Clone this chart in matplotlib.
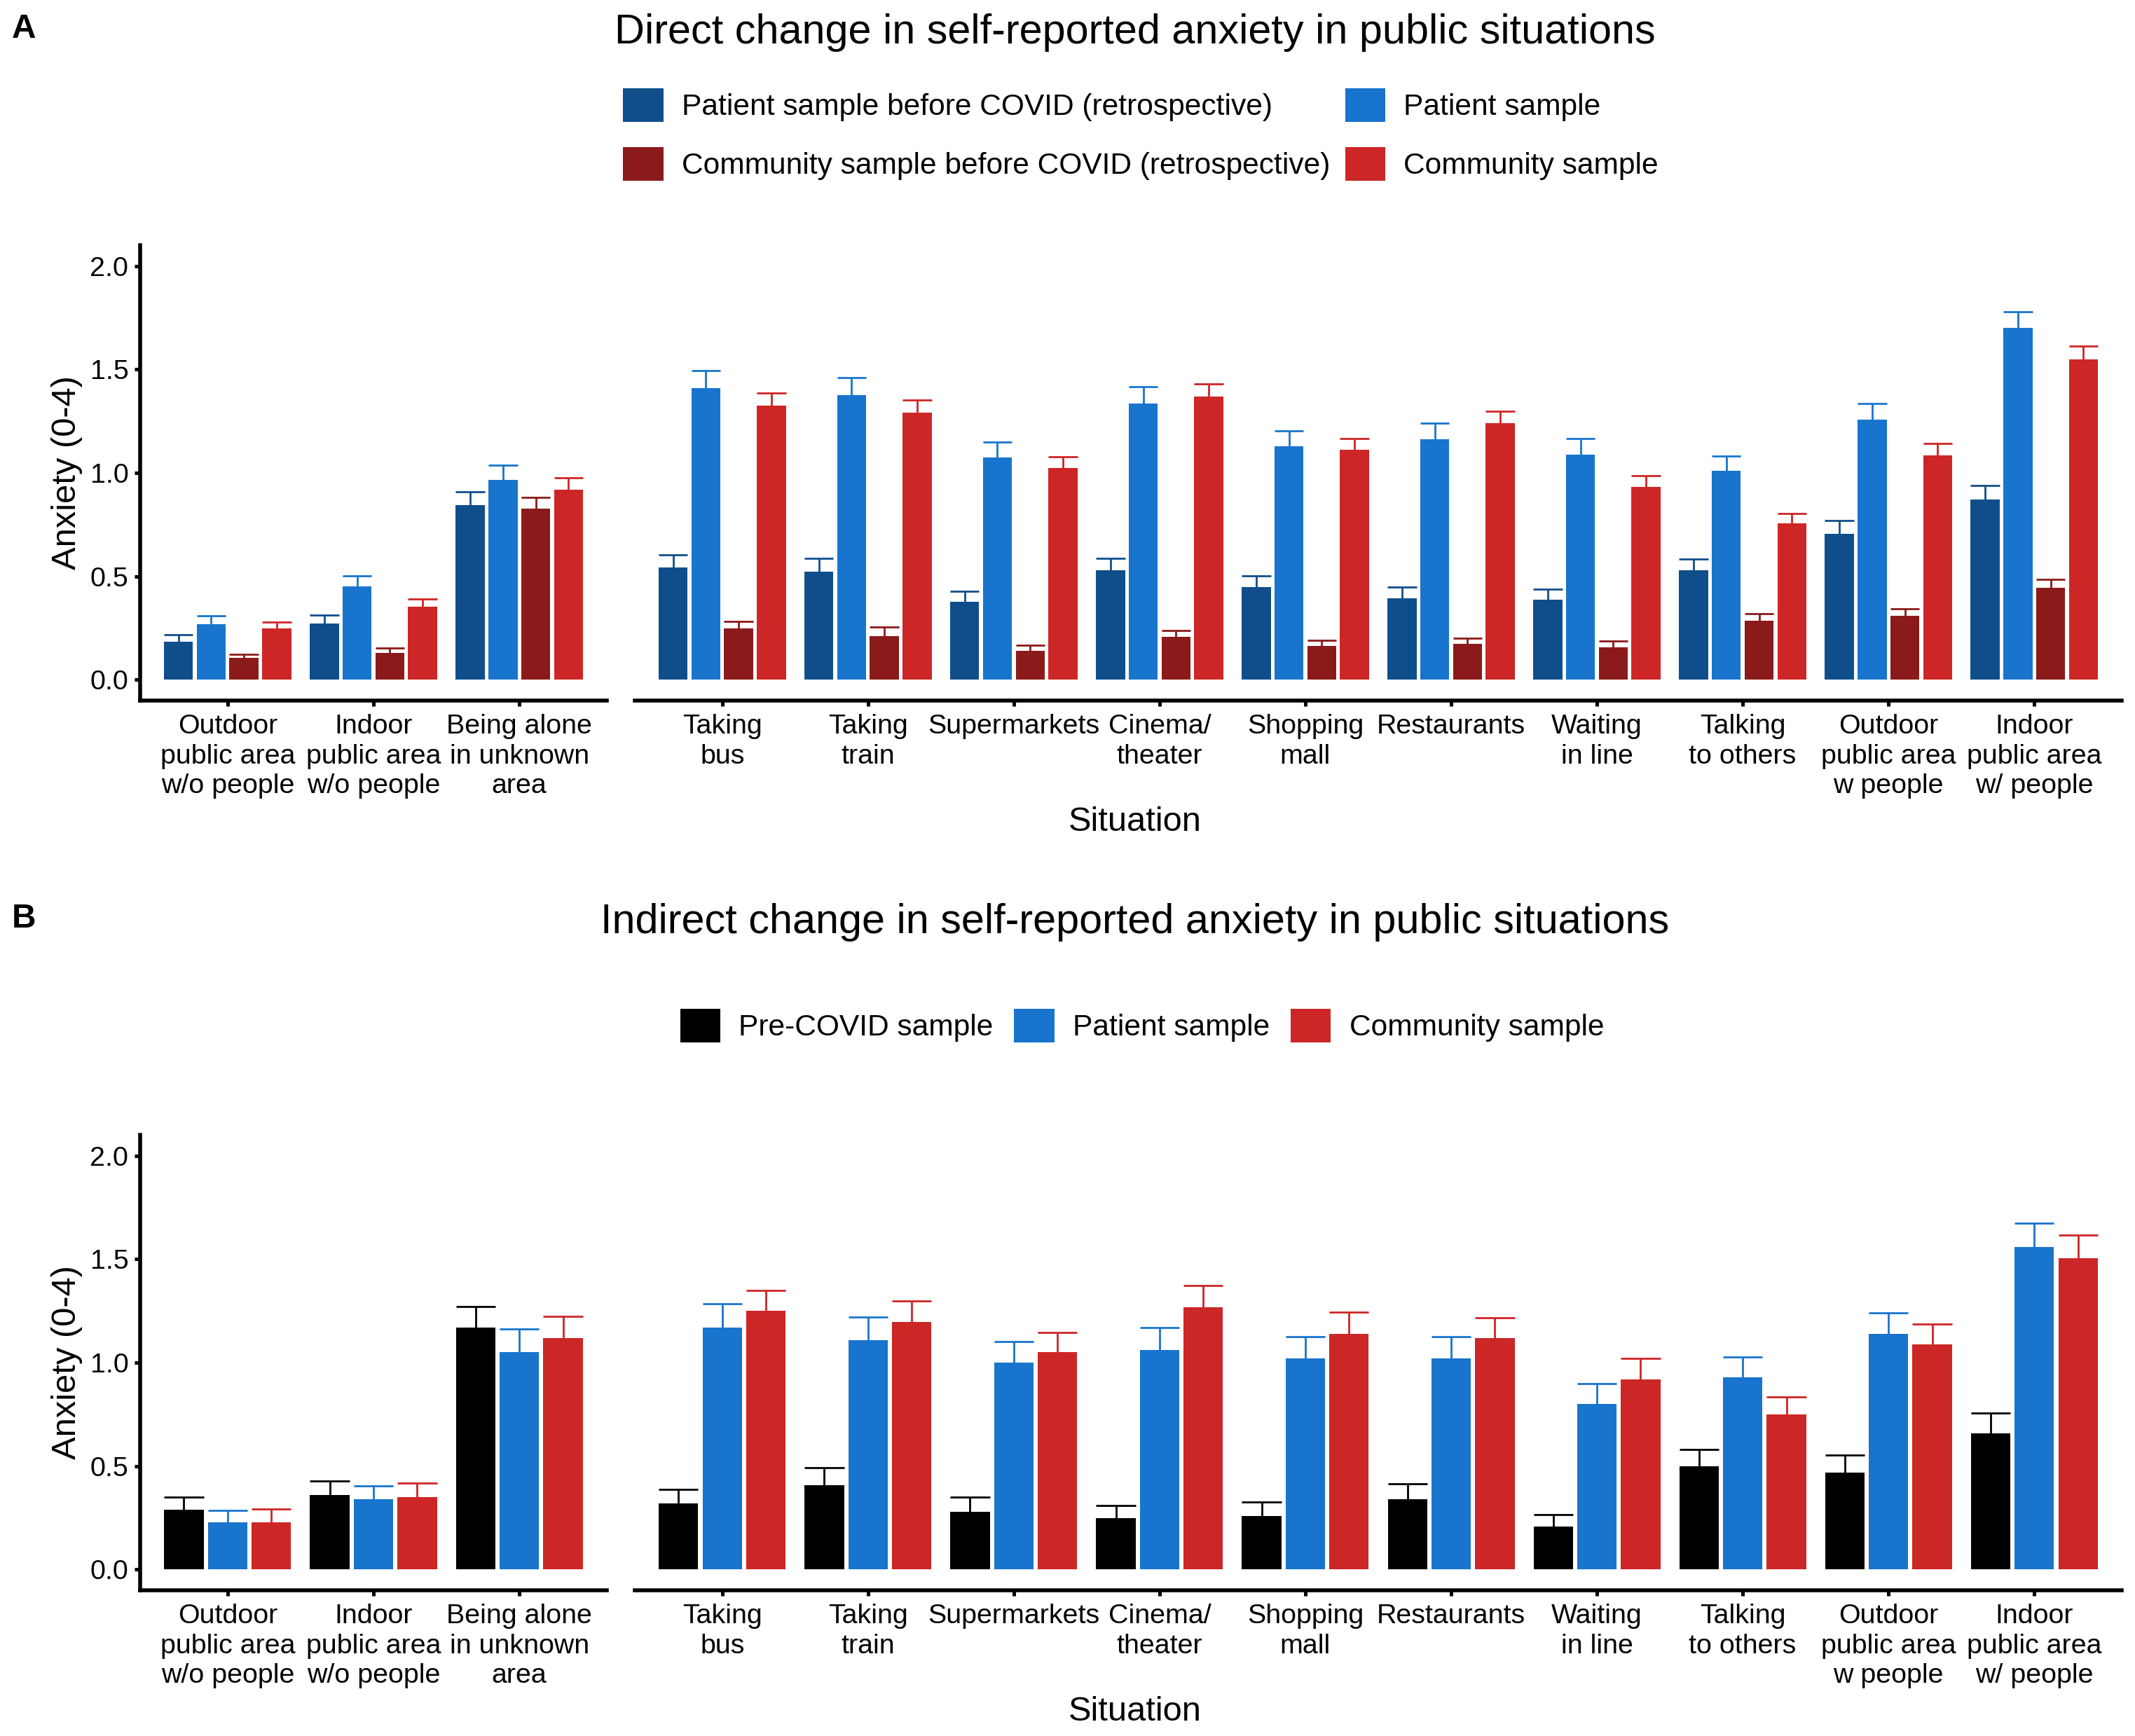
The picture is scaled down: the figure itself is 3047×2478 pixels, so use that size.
import numpy as np
import matplotlib
matplotlib.use("Agg")
import matplotlib.pyplot as plt
from matplotlib.patches import Patch

plt.rcParams['font.family'] = ['Liberation Sans', 'DejaVu Sans']

# situations, first three are shown in the left facet
situations = [
    "Outdoor\npublic area\nw/o people", "Indoor\npublic area\nw/o people", "Being alone\nin unknown\narea",
    "Taking\nbus", "Taking\ntrain", "Supermarkets", "Cinema/\ntheater", "Shopping\nmall",
    "Restaurants", "Waiting\nin line", "Talking\nto others", "Outdoor\npublic area\nw people",
    "Indoor\npublic area\nw/ people",
]
n_left = 3

# panel A: mean and top of error bar
a_patient_pre = [0.184, 0.271, 0.843, 0.543, 0.524, 0.377, 0.529, 0.448, 0.393, 0.387, 0.529, 0.704, 0.873]
a_patient_pre_top = [0.219, 0.313, 0.910, 0.603, 0.586, 0.427, 0.586, 0.502, 0.448, 0.437, 0.585, 0.770, 0.939]
a_patient = [0.268, 0.451, 0.965, 1.409, 1.376, 1.075, 1.335, 1.129, 1.164, 1.088, 1.011, 1.257, 1.700]
a_patient_top = [0.310, 0.502, 1.038, 1.495, 1.460, 1.150, 1.418, 1.204, 1.240, 1.167, 1.082, 1.335, 1.780]
a_comm_pre = [0.107, 0.130, 0.829, 0.249, 0.211, 0.140, 0.208, 0.164, 0.173, 0.157, 0.285, 0.309, 0.445]
a_comm_pre_top = [0.125, 0.154, 0.880, 0.282, 0.255, 0.169, 0.237, 0.191, 0.202, 0.188, 0.321, 0.344, 0.487]
a_comm = [0.249, 0.353, 0.919, 1.325, 1.292, 1.025, 1.369, 1.112, 1.240, 0.933, 0.758, 1.085, 1.548]
a_comm_top = [0.279, 0.392, 0.977, 1.385, 1.352, 1.078, 1.430, 1.167, 1.298, 0.986, 0.805, 1.141, 1.611]

# panel B
b_pre = [0.290, 0.361, 1.168, 0.320, 0.408, 0.279, 0.249, 0.260, 0.340, 0.208, 0.500, 0.469, 0.658]
b_pre_top = [0.350, 0.427, 1.271, 0.388, 0.494, 0.350, 0.308, 0.328, 0.415, 0.267, 0.580, 0.552, 0.756]
b_patient = [0.228, 0.340, 1.051, 1.168, 1.108, 0.999, 1.061, 1.020, 1.020, 0.800, 0.928, 1.138, 1.558]
b_patient_top = [0.285, 0.403, 1.162, 1.286, 1.221, 1.103, 1.170, 1.126, 1.125, 0.898, 1.026, 1.242, 1.672]
b_comm = [0.228, 0.350, 1.118, 1.250, 1.198, 1.051, 1.269, 1.138, 1.118, 0.918, 0.749, 1.087, 1.506]
b_comm_top = [0.293, 0.417, 1.224, 1.348, 1.297, 1.147, 1.374, 1.244, 1.215, 1.020, 0.833, 1.186, 1.617]

a_labels = ["Patient sample before COVID (retrospective)", "Community sample before COVID (retrospective)",
            "Patient sample", "Community sample"]
b_labels = ["Pre-COVID sample", "Patient sample", "Community sample"]

dark_blue, blue, dark_red, red = "#104E8B", "#1874CD", "#8B1A1A", "#CD2626"

W, H, DPI = 3047, 2478, 200
fig = plt.figure(figsize=(W / DPI, H / DPI), dpi=DPI)


def box(x0, y0, x1, y1):
    # pixel box measured from the top left corner
    return [x0 / W, 1 - y1 / H, (x1 - x0) / W, (y1 - y0) / H]


def style(ax, left):
    for s in ["top", "right"]:
        ax.spines[s].set_visible(False)
    ax.spines["bottom"].set_linewidth(2)
    ax.spines["left"].set_linewidth(2)
    ax.tick_params(axis="x", length=3, width=1.8, pad=4, labelsize=14.2)
    ax.tick_params(axis="y", length=3, width=1.8, pad=3, labelsize=14.2)
    if not left:
        ax.spines["left"].set_visible(False)
        ax.set_yticks([])


def draw_panel(top, means, tops, colors, slot, width):
    bottom = top + 650
    axl = fig.add_axes(box(200, top, 866, bottom))
    axr = fig.add_axes(box(906, top, 3028, bottom))
    k = len(means)
    offs = (np.arange(k) - (k - 1) / 2) * slot
    for ax, sl in ((axl, slice(0, n_left)), (axr, slice(n_left, None))):
        labels = situations[sl]
        x = np.arange(len(labels))
        for j in range(k):
            m = np.array(means[j])[sl]
            t = np.array(tops[j])[sl]
            xs = x + offs[j]
            ax.bar(xs, m, width, color=colors[j], zorder=2)
            ax.vlines(xs, m, t, color=colors[j], lw=1.0, zorder=1)
            ax.hlines(t, xs - width / 2, xs + width / 2, color=colors[j], lw=1.0, zorder=1)
        ax.set_xlim(-0.6, len(labels) - 0.4)
        ax.set_ylim(-0.1, 2.1)
        ax.set_xticks(x)
        ax.set_xticklabels(labels, linespacing=1.22)
        style(ax, ax is axl)
    axl.set_yticks([0, 0.5, 1.0, 1.5, 2.0])
    axl.set_yticklabels(["0.0", "0.5", "1.0", "1.5", "2.0"])
    fig.text(96 / W, 1 - (top + 325) / H, "Anxiety (0-4)", rotation=90, fontsize=17.6,
             ha="center", va="center")
    fig.text(1620 / W, 1 - (bottom + 186) / H, "Situation", fontsize=17.6, ha="center", va="baseline")


# panel A
draw_panel(350, [a_patient_pre, a_patient, a_comm_pre, a_comm],
           [a_patient_pre_top, a_patient_top, a_comm_pre_top, a_comm_top],
           [dark_blue, blue, dark_red, red], 0.225, 0.2)
fig.text(17 / W, 1 - 54 / H, "A", fontsize=17.2, weight="bold", va="baseline")
fig.text(1620 / W, 1 - 62 / H, "Direct change in self-reported anxiety in public situations",
         fontsize=21.4, ha="center", va="baseline")
handles_a = [Patch(facecolor=c, edgecolor="none") for c in [dark_blue, dark_red, blue, red]]
fig.legend(handles_a, a_labels, ncol=2, loc="center", bbox_to_anchor=(1628 / W, 1 - 192 / H),
           frameon=False, fontsize=15.3, handlelength=1.35, handleheight=1.35, handletextpad=0.62,
           columnspacing=0.5, labelspacing=0.84, borderpad=0, borderaxespad=0)

# panel B
draw_panel(1620, [b_pre, b_patient, b_comm], [b_pre_top, b_patient_top, b_comm_top],
           ["black", blue, red], 0.3, 0.27)
fig.text(17 / W, 1 - 1324 / H, "B", fontsize=17.2, weight="bold", va="baseline")
fig.text(1620 / W, 1 - 1332 / H, "Indirect change in self-reported anxiety in public situations",
         fontsize=21.4, ha="center", va="baseline")
handles_b = [Patch(facecolor=c, edgecolor="none") for c in ["black", blue, red]]
fig.legend(handles_b, b_labels, ncol=3, loc="center", bbox_to_anchor=(1630 / W, 1 - 1464 / H),
           frameon=False, fontsize=15.3, handlelength=1.35, handleheight=1.35, handletextpad=0.62,
           columnspacing=0.7, borderpad=0, borderaxespad=0)

fig.savefig("out.png", dpi=DPI)
